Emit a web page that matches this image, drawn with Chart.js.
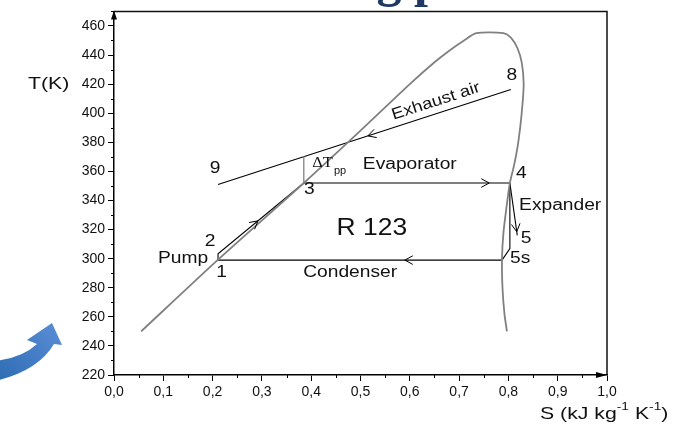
<!DOCTYPE html>
<html><head><meta charset="utf-8">
<script src="https://cdn.jsdelivr.net/npm/chart.js@4.4.1/dist/chart.umd.min.js"></script>
<style>html,body{margin:0;padding:0;background:#fff;}#wrap{width:687px;height:425px;position:relative;}</style>
</head><body><div id="wrap"><canvas id="c" width="687" height="425"></canvas></div>
<script>
// ---- data (S in kJ/kg/K, T in K) ----
const domeS = [0.055,0.21,0.385,0.5,0.6,0.65,0.68,0.71,0.735,0.79,0.805,0.818,0.827,0.831,0.827,0.82,0.812,0.803,0.796,0.79,0.787,0.788,0.792,0.797];
const domeT = [250,299,352,388,420,435,443,450,455,455,452,445,435,420,400,380,365,352,335,318,300,280,262,250];
const pumpS = [0.211,0.211,0.385];
const pumpT = [299,303.3,352];
const evapS = [0.385,0.803];
const evapT = [352,352];
const expS = [0.803,0.818];
const expT = [352,316];
const isoS = [0.803,0.803,0.787];
const isoT = [352,307,299];
const condS = [0.787,0.211];
const condT = [299,299];
const pinchS = [0.385,0.385];
const pinchT = [352,370.5];
const exhaustS = [0.211,0.805];
const exhaustT = [351,416.3];
// flow arrows: tip position and a point in the pointing direction
const arrowS = [0.515,0.761,0.292,0.59,0.817];
const arrowT = [384.4,352,326,299,318.5];
const arrowDirS = [0.211,0.803,0.385,0.211,0.818];
const arrowDirT = [351,352,352,299,316];
// text labels
const labelText = ['9','8','Evaporator','3','4','Expander','R 123','2','Pump','1','Condenser','5','5s'];
const labelS = [0.205,0.807,0.600,0.396,0.826,0.905,0.523,0.195,0.140,0.218,0.479,0.836,0.824];
const labelT = [361.6,425.9,364.4,347.3,358.2,336.3,320.6,311.7,300.0,290.5,290.5,313.7,300.0];
const exhaustLabel = {text:'Exhaust air', s:0.653, t:408.1};
const pinchLabel = {s:0.402, t:365.0};
const xTicks = [0,0.1,0.2,0.3,0.4,0.5,0.6,0.7,0.8,0.9,1.0];
const yTicks = [220,240,260,280,300,320,340,360,380,400,420,440,460];

function pts(S,T){return S.map((s,i)=>({x:s,y:T[i]}));}
function ds(S,T,color,w,tension){return {data:pts(S,T),showLine:true,borderColor:color,borderWidth:w,pointRadius:0,tension:tension||0,fill:false};}

const FONT = '"Liberation Sans", Arial, sans-serif';
function stext(c,t,x,y,font,sx,align,base){
  c.save(); c.translate(x,y); c.scale(sx,1); c.font=font; c.textAlign=align||'center'; c.textBaseline=base||'middle';
  c.fillText(t,0,0); c.restore();
}

const decor = {
  id:'decor',
  beforeDraw(chart){
    const c=chart.ctx; c.save(); c.fillStyle='#fff'; c.fillRect(0,0,chart.width,chart.height);
    // cropped slide title (only descenders visible)
    c.fillStyle='#1F3864'; c.font='bold 50px "Liberation Serif", "DejaVu Serif", serif'; c.textAlign='left'; c.textBaseline='alphabetic';
    const pre=c.measureText('Workin').width, gw=c.measureText('g').width;
    c.fillText('Working process', 389-pre-gw/2, -4);
    // blue decorative arrow
    const g=c.createLinearGradient(0,380,60,320); g.addColorStop(0,'#2F6DB5'); g.addColorStop(1,'#5B8FD6');
    c.fillStyle=g; c.beginPath();
    c.moveTo(-5,361); c.quadraticCurveTo(22,358,37,344); c.lineTo(27,340); c.lineTo(52,323); c.lineTo(62,345); c.lineTo(54,344);
    c.quadraticCurveTo(38,371,-5,381); c.closePath(); c.fill();
    c.restore();
  },
  afterDatasetsDraw(chart){
    const c=chart.ctx, xs=chart.scales.x, ys=chart.scales.y, a=chart.chartArea;
    c.save();
    // minor ticks
    c.strokeStyle='#000'; c.lineWidth=1;
    for(let i=0;i<10;i++){const px=Math.round(xs.getPixelForValue(xTicks[i]+0.05))+0.5; c.beginPath(); c.moveTo(px,a.bottom); c.lineTo(px,a.bottom+3); c.stroke();}
    for(let i=0;i<yTicks.length;i++){const py=Math.round(ys.getPixelForValue(yTicks[i]+10))+0.5; if(py<a.top)continue; c.beginPath(); c.moveTo(a.left-3,py); c.lineTo(a.left,py); c.stroke();}
    // frame top/right
    c.strokeStyle='#111'; c.lineWidth=1.5;
    c.beginPath(); c.moveTo(a.left,a.top); c.lineTo(a.right,a.top); c.lineTo(a.right,a.bottom); c.stroke();
    // axis arrowheads
    c.fillStyle='#000';
    c.beginPath(); c.moveTo(a.left,a.top-1); c.lineTo(a.left-3,a.top+8); c.lineTo(a.left+3,a.top+8); c.closePath(); c.fill();
    c.beginPath(); c.moveTo(a.right,a.bottom); c.lineTo(a.right-11,a.bottom-3); c.lineTo(a.right-11,a.bottom+3); c.closePath(); c.fill();
    // flow chevrons
    c.strokeStyle='#000'; c.lineWidth=1;
    for(let i=0;i<arrowS.length;i++){
      const tx=xs.getPixelForValue(arrowS[i]), ty=ys.getPixelForValue(arrowT[i]);
      const dx=xs.getPixelForValue(arrowDirS[i])-tx, dy=ys.getPixelForValue(arrowDirT[i])-ty;
      const ang=Math.atan2(dy,dx), L=9, h=0.5;
      c.beginPath();
      c.moveTo(tx-L*Math.cos(ang-h), ty-L*Math.sin(ang-h));
      c.lineTo(tx,ty);
      c.lineTo(tx-L*Math.cos(ang+h), ty-L*Math.sin(ang+h));
      c.stroke();
    }
    // labels
    c.fillStyle='#111';
    for(let i=0;i<labelText.length;i++){
      const t=labelText[i];
      const big = t==='R 123';
      stext(c,t,xs.getPixelForValue(labelS[i]),ys.getPixelForValue(labelT[i]), big?'23px '+FONT:'16px '+FONT, big?1.15:1.2);
    }
    // exhaust air rotated
    c.save();
    c.translate(xs.getPixelForValue(exhaustLabel.s), ys.getPixelForValue(exhaustLabel.t));
    const ang=Math.atan2(ys.getPixelForValue(exhaustT[1])-ys.getPixelForValue(exhaustT[0]), xs.getPixelForValue(exhaustS[1])-xs.getPixelForValue(exhaustS[0]));
    c.rotate(ang); stext(c,exhaustLabel.text,0,0,'16px '+FONT,1.15); c.restore();
    // delta T pp
    const px=xs.getPixelForValue(pinchLabel.s), py=ys.getPixelForValue(pinchLabel.t);
    stext(c,'ΔT',px,py+3,'15px "Liberation Serif", serif',1.1,'left','alphabetic');
    c.font='15px "Liberation Serif", serif';
    const w=c.measureText('ΔT').width*1.1;
    stext(c,'pp',px+w+1,py+10,'10px '+FONT,1.1,'left','alphabetic');
    // axis titles
    stext(c,'T(K)',28,ys.getPixelForValue(420),'17px '+FONT,1.25,'left','middle');
    let x0=540; const y0=414;
    const parts=[['S (kJ kg',0],['-1',1],[' K',0],['-1',1],[')',0]];
    for(const [s,sup] of parts){
      const f = sup ? '11px '+FONT : '17px '+FONT;
      stext(c,s,x0, sup? y0-7 : y0, f,1.25,'left','middle');
      c.font=f; x0 += c.measureText(s).width*1.25;
    }
    c.restore();
  }
};

new Chart(document.getElementById('c'),{
  type:'scatter',
  data:{datasets:[
    ds(domeS,domeT,'#808080',1.8,0.25),
    ds(pinchS,pinchT,'#777',1.2),
    ds(exhaustS,exhaustT,'#000',1.1),
    ds(pumpS,pumpT,'#000',1.1),
    ds(evapS,evapT,'#000',1.1),
    ds(expS,expT,'#000',1.1),
    ds(isoS,isoT,'#000',1.1),
    ds(condS,condT,'#000',1.1)
  ]},
  plugins:[decor],
  options:{
    responsive:false, animation:false, devicePixelRatio:1,
    layout:{padding:{top:10,right:80,left:0,bottom:0}},
    plugins:{legend:{display:false},tooltip:{enabled:false}},
    scales:{
      x:{type:'linear',min:0,max:1,
        afterBuildTicks(s){s.ticks=xTicks.map(v=>({value:v}));},
        afterFit(s){s.height=50;},
        ticks:{color:'#111',font:{size:14,family:FONT},padding:3,maxRotation:0,autoSkip:false,
          callback:v=>v.toFixed(1).replace('.',',')},
        grid:{drawOnChartArea:false,tickLength:6,tickColor:'#000',tickWidth:1},
        border:{display:true,color:'#000',width:1.5}},
      y:{type:'linear',min:220,max:470,
        afterBuildTicks(s){s.ticks=yTicks.map(v=>({value:v}));},
        afterFit(s){s.width=114;},
        ticks:{color:'#111',font:{size:14,family:FONT},padding:3,autoSkip:false},
        grid:{drawOnChartArea:false,tickLength:6,tickColor:'#000',tickWidth:1},
        border:{display:true,color:'#000',width:1.5}}
    }
  }
});
</script></body></html>
